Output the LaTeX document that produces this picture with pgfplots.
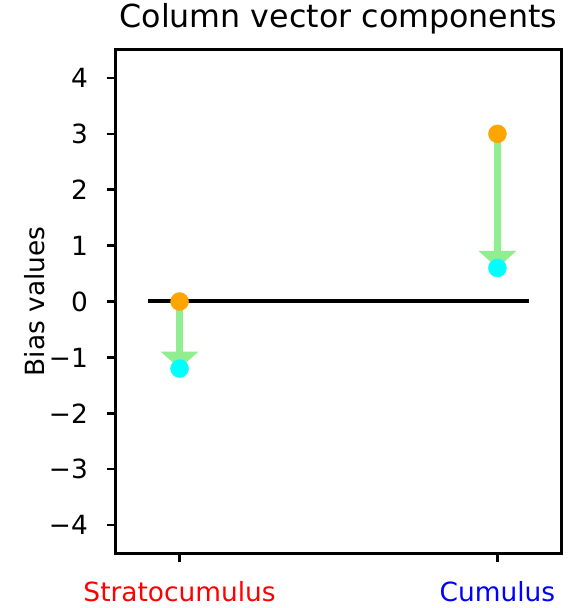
\documentclass[border=0pt]{standalone}
\usepackage{pgfplots}
\pgfplotsset{compat=1.18}
\usepackage{fontspec}
\setmainfont{DejaVu Sans}
\usetikzlibrary{arrows.meta}
\definecolor{mplorange}{RGB}{255,165,0}
\definecolor{mplgreen}{RGB}{144,238,144}
\definecolor{mplcyan}{RGB}{0,255,255}
\definecolor{mplred}{RGB}{255,0,0}
\definecolor{mplblue}{RGB}{0,0,255}
\begin{document}
\begin{tikzpicture}
\begin{axis}[
  scale only axis, width=445bp, height=503bp,
  xmin=-0.2, xmax=1.2, ymin=-4.5, ymax=4.5,
  axis line style={line width=3bp},
  tick style={line width=2.5bp, black},
  major tick length=9bp, tick align=outside, tick pos=left,
  xtick={0,1},
  xticklabels={\textcolor{mplred}{Stratocumulus},\textcolor{mplblue}{Cumulus}},
  ytick={-4,-3,-2,-1,0,1,2,3,4},
  yticklabels={−4,−3,−2,−1,0,1,2,3,4},
  ticklabel style={font=\fontsize{26.4bp}{30bp}\selectfont},
  xticklabel style={anchor=base, inner sep=0pt, yshift=-39bp},
  yticklabel style={anchor=east, inner sep=0pt, xshift=-19bp},
  ylabel={Bias values},
  ylabel style={at={(axis description cs:-0.182,0.5)}, anchor=center, rotate=0},
  label style={font=\fontsize{26.4bp}{30bp}\selectfont},
  title={Column vector components},
  title style={at={(axis description cs:0.5,1)}, anchor=base, yshift=17bp, font=\fontsize{31.7bp}{36bp}\selectfont},
  clip=false,
]
\addplot[mplorange, only marks, mark=*, mark size=9bp] coordinates {(0,0) (1,3)};
\addplot[black, line width=4bp] coordinates {(-0.1,0) (1.1,0)};
\addplot[mplgreen, line width=7bp, -{Triangle[width=37bp,length=17bp]}] coordinates {(0,0) (0,-1.2)};
\addplot[mplgreen, line width=7bp, -{Triangle[width=37bp,length=17bp]}] coordinates {(1,3) (1,0.6)};
\addplot[mplcyan, only marks, mark=*, mark size=9bp] coordinates {(0,-1.2) (1,0.6)};
\end{axis}
\pgfresetboundingbox
\path[use as bounding box] ([shift={(-116bp,-55bp)}]current axis.south west) rectangle ([shift={(13bp,50bp)}]current axis.north east);
\end{tikzpicture}
\end{document}
